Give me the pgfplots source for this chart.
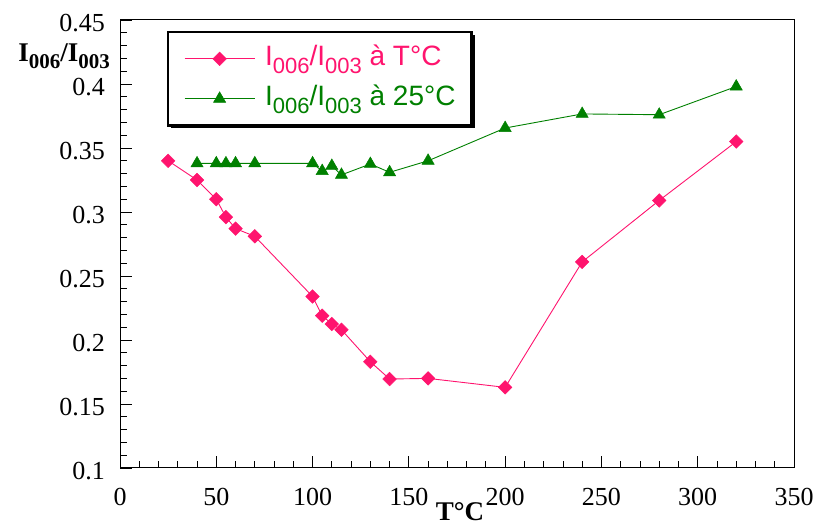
\documentclass[border=0pt]{standalone}
\usepackage{fontspec}
\setmainfont{Liberation Serif}
\newfontfamily\legendfont{Liberation Sans}
\usepackage{pgfplots}
\pgfplotsset{compat=1.18}
\usetikzlibrary{backgrounds}
\definecolor{pinkc}{RGB}{255,20,110}
\definecolor{greenc}{RGB}{0,128,0}
\newcommand{\lsub}[1]{\raisebox{-0.28em}{\fontsize{22}{22}\selectfont #1}}
\newcommand{\bsub}[1]{\raisebox{-0.25em}{\fontsize{21}{21}\selectfont\bfseries #1}}
\begin{document}
\begin{tikzpicture}
\useasboundingbox (0pt,0pt) rectangle (813pt,526pt);
\begin{axis}[
  at={(120pt,58pt)}, anchor=south west,
  scale only axis, width=674pt, height=448pt,
  xmin=0, xmax=350, ymin=0.1, ymax=0.45,
  xtick={0,50,...,350},
  ytick={0.1,0.15,0.2,0.25,0.3,0.35,0.4,0.45},
  yticklabels={0.1,0.15,0.2,0.25,0.3,0.35,0.4,0.45},
  minor x tick num=4, minor y tick num=4,
  tick pos=left, tick align=inside,
  major tick length=12pt, minor tick length=7pt,
  every tick/.style={black, line width=0.8pt},
  axis line style={line width=1pt},
  /pgf/number format/assume math mode=true,
  tick label style={font=\fontsize{26}{30}\selectfont},
  yticklabel style={anchor=east, inner sep=0pt, xshift=-15pt, yshift=-3pt},
  xticklabel style={anchor=north, inner sep=0pt, yshift=-20pt},
  legend style={at={(0.0712,0.973)}, anchor=north west, name=leg,
    draw=none, fill=none,
    font=\legendfont\fontsize{28}{30}\selectfont,
    nodes={inner sep=0pt, text height=21pt, text depth=8pt},
    row sep=11pt, column sep=10pt, inner xsep=16pt, inner ysep=12pt},
  legend cell align=left,
  legend image code/.code={\draw[mark repeat=2,mark phase=2,#1] plot coordinates {(0pt,0pt) (35pt,0pt) (70pt,0pt)};},
]
\addplot[pinkc, line width=0.9pt, mark=square*, mark size=4.8pt, mark options={rotate=45, solid, fill=pinkc, line width=0.5pt}] coordinates {
(25,0.340) (40,0.325) (50,0.310) (55,0.296) (60,0.287) (70,0.281)
(100,0.234) (105,0.219) (110,0.2125) (115,0.208) (130,0.183) (140,0.1695)
(160,0.170) (200,0.163) (240,0.261) (280,0.309) (320,0.355)};
\addlegendentry{\textcolor{pinkc}{I\lsub{006}/I\lsub{003} à T°C}}
\addplot[greenc, line width=0.9pt, mark=triangle*, mark size=7pt, mark options={solid, fill=greenc, line width=0.5pt}] coordinates {
(40,0.338) (50,0.338) (55,0.338) (60,0.338) (70,0.338) (100,0.338)
(105,0.332) (110,0.336) (115,0.329) (130,0.3375) (140,0.331) (160,0.340)
(200,0.3656) (240,0.3766) (280,0.376) (320,0.398)};
\addlegendentry{\textcolor{greenc}{I\lsub{006}/I\lsub{003} à 25°C}}
\end{axis}
\begin{scope}[on background layer]
\fill[black] ([shift={(3pt,-3pt)}]leg.south west) rectangle ([shift={(3pt,-3pt)}]leg.north east);
\filldraw[fill=white, draw=black, line width=2.5pt] (leg.south west) rectangle (leg.north east);
\end{scope}
\node[anchor=base east, inner sep=0pt, font=\fontsize{27}{30}\selectfont\bfseries] at (110pt,464pt) {I\bsub{006}/I\bsub{003}};
\node[anchor=base, inner sep=0pt, font=\fontsize{27}{30}\selectfont\bfseries] at (460pt,5pt) {T°C};
\end{tikzpicture}
\end{document}
